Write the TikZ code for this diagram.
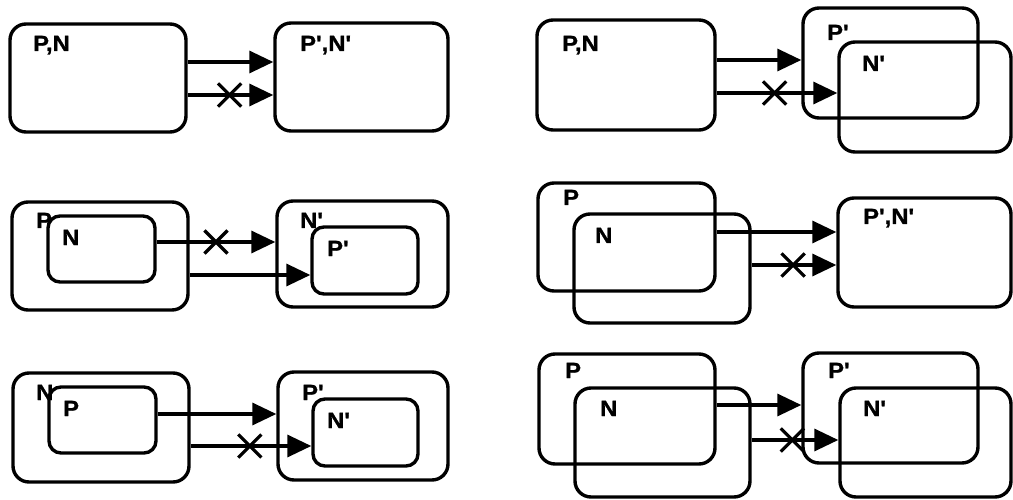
\documentclass[tikz,border=0pt]{standalone}
\usepackage{fontspec}
\setmainfont{Liberation Sans}
\newfontfamily\lblfont{Liberation Sans}[BoldFeatures={FakeStretch=1.08,FakeBold=1.2}]
\usetikzlibrary{arrows.meta,shapes.misc}

\begin{document}
\begin{tikzpicture}[x=1pt,y=-1pt,
  setbox/.style={draw, line width=3.4pt, rounded corners=16pt,
    minimum width=176pt, minimum height=108pt, inner sep=0pt},
  subbox/.style={draw, line width=3.4pt, rounded corners=12pt,
    minimum width=106pt, minimum height=66pt, inner sep=0pt},
  lbl/.style={anchor=base west, inner sep=0pt,
    font=\lblfont\bfseries\fontsize{22}{22}\selectfont},
  flow/.style={line width=3.4pt, -{Triangle[length=24pt,width=22pt]}},
  crossmark/.style={draw, cross out, line width=3.2pt, minimum size=20pt,
    inner sep=0pt}]

\useasboundingbox (0,0) rectangle (1013,500);

% ---- row 1, left: P,N -> P',N'
\node[setbox] (a1) at (98,78) {};
\node[setbox, minimum width=173pt] (b1) at (361.5,77) {};
\node[lbl] at (33,51) {P,N};
\node[lbl] at (300,51) {P',N'};
\draw[flow] (a1.east |- 0,62) -- (b1.west |- 0,62);
\draw[flow] (a1.east |- 0,95) -- node[pos=0.49, crossmark] {} (b1.west |- 0,95);

% ---- row 2, left: N inside P -> P' inside N'
\node[setbox] (a2P) at (100,256) {};
\node[subbox, minimum width=107pt] (a2N) at (101.5,249) {};
\node[setbox, minimum width=171pt, minimum height=106pt] (b2N) at (362.5,254) {};
\node[subbox, minimum height=67pt] (b2P) at (365,260.5) {};
\node[lbl] at (36,228) {P};
\node[lbl] at (62,245) {N};
\node[lbl] at (300,228) {N'};
\node[lbl] at (327,256) {P'};
\draw[flow] (a2N.east |- 0,242) -- node[pos=0.5, crossmark] {} (b2N.west |- 0,242);
\draw[flow] (a2P.east |- 0,275) -- (b2P.west |- 0,275);

% ---- row 3, left: P inside N -> N' inside P'
\node[setbox, minimum height=109pt] (a3N) at (101,427.5) {};
\node[subbox, minimum width=107pt] (a3P) at (102.5,420) {};
\node[setbox, minimum width=170pt] (b3P) at (363,426) {};
\node[subbox, minimum width=105pt, minimum height=67pt] (b3N) at (365.5,432.5) {};
\node[lbl] at (36,400) {N};
\node[lbl] at (63,416) {P};
\node[lbl] at (302,400) {P'};
\node[lbl] at (327,428) {N'};
\draw[flow] (a3P.east |- 0,414) -- (b3P.west |- 0,414);
\draw[flow] (a3N.east |- 0,446) -- node[pos=0.49, crossmark] {} (b3N.west |- 0,446);

% ---- row 1, right: P,N -> overlapping P' and N'
\node[setbox, minimum width=178pt, minimum height=110pt] (c1) at (626,75) {};
\node[setbox, minimum width=175pt, minimum height=110pt] (d1P) at (890.5,63) {};
\node[setbox, minimum width=172pt, minimum height=110pt] (d1N) at (925,97) {};
\node[lbl] at (562,51) {P,N};
\node[lbl] at (827,40) {P'};
\node[lbl] at (862,71) {N'};
\draw[flow] (c1.east |- 0,60) -- (d1P.west |- 0,60);
\draw[flow] (c1.east |- 0,93) -- node[pos=0.48, crossmark] {} (d1N.west |- 0,93);

% ---- row 2, right: overlapping P and N -> P',N'
\node[setbox, minimum width=177pt] (c2P) at (626.5,237) {};
\node[setbox, minimum height=109pt] (c2N) at (662,268.5) {};
\node[setbox, minimum width=173pt, minimum height=109pt] (d2) at (924.5,252.5) {};
\node[lbl] at (563,205) {P};
\node[lbl] at (595,243) {N};
\node[lbl] at (863,224) {P',N'};
\draw[flow] (c2P.east |- 0,232) -- (d2.west |- 0,232);
\draw[flow] (c2N.east |- 0,265) -- node[pos=0.49, crossmark] {} (d2.west |- 0,265);

% ---- row 3, right: overlapping P and N -> overlapping P' and N'
\node[setbox, minimum height=110pt] (c3P) at (627,409) {};
\node[setbox, minimum width=175pt, minimum height=109pt] (c3N) at (662.5,442.5) {};
\node[setbox, minimum width=175pt, minimum height=110pt] (d3P) at (890.5,408) {};
\node[setbox, minimum width=171pt, minimum height=109pt] (d3N) at (925.5,442.5) {};
\node[lbl] at (565,378) {P};
\node[lbl] at (600,416) {N};
\node[lbl] at (828,378) {P'};
\node[lbl] at (863,416) {N'};
\draw[flow] (c3P.east |- 0,405) -- (d3P.west |- 0,405);
\draw[flow] (c3N.east |- 0,440) -- node[pos=0.47, crossmark] {} (d3N.west |- 0,440);

\end{tikzpicture}
\end{document}
